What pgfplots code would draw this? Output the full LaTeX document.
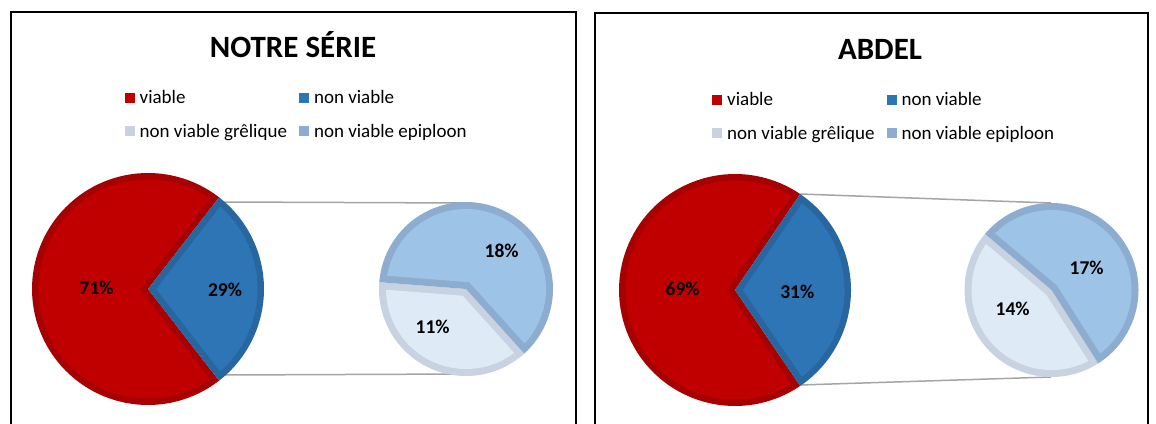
\documentclass[border=0pt]{standalone}
\usepackage{pgfplots}
\pgfplotsset{compat=1.18}
\usepackage{pgfplotstable}
\usepackage{fontspec}
\setmainfont{Carlito}

\definecolor{vred}{RGB}{192,0,0}
\definecolor{vredb}{RGB}{166,0,0}
\definecolor{nvblue}{RGB}{46,117,182}
\definecolor{nvblueb}{RGB}{40,102,160}
\definecolor{epfill}{RGB}{157,195,230}
\definecolor{epborder}{RGB}{140,173,207}
\definecolor{grfill}{RGB}{222,235,247}
\definecolor{grborder}{RGB}{200,210,224}
\definecolor{leader}{RGB}{165,165,165}

% percentages
\pgfplotstableread{
serie viable nonviable greliq epip
L 71 29 11 18
R 69 31 14 17
}\piedata

\pgfplotstablegetelem{0}{nonviable}\of\piedata \let\Lnv\pgfplotsretval
\pgfplotstablegetelem{0}{greliq}\of\piedata \let\Lgr\pgfplotsretval
\pgfplotstablegetelem{1}{nonviable}\of\piedata \let\Rnv\pgfplotsretval
\pgfplotstablegetelem{1}{greliq}\of\piedata \let\Rgr\pgfplotsretval

% main pie: non viable slice centred on the right
\pgfmathsetmacro\Lh{\Lnv*1.8}
\pgfmathsetmacro\Lhh{360-\Lh}
\pgfmathsetmacro\Rh{\Rnv*1.8}
\pgfmathsetmacro\Rhh{360-\Rh}
% secondary pie: grelique slice start angle, then its span
\def\Ls{175.5}
\pgfmathsetmacro\Le{\Ls+\Lgr/\Lnv*360}
\pgfmathsetmacro\Lee{\Ls+360}
\def\Rs{139.9}
\pgfmathsetmacro\Re{\Rs+\Rgr/\Rnv*360}
\pgfmathsetmacro\Ree{\Rs+360}

% #1 cx, #2 cy, #3 radius, #4 border width, #5 from, #6 to, #7 fill, #8 border
\newcommand{\pieslice}[8]{%
  \addplot[forget plot, draw=none, fill=#8, domain=#5:#6, samples=90, variable=\t]
    ({#1+#3*cos(\t)}, {#2-#3*sin(\t)}) -- (axis cs:#1,#2) -- cycle;
  \addplot[forget plot, draw=none, fill=#7, domain=#5+asin(#4/(#3-#4)):#6-asin(#4/(#3-#4)), samples=90, variable=\t]
    ({#1+(#3-#4)*cos(\t)}, {#2-(#3-#4)*sin(\t)})
    -- (axis cs:{#1+#4/sin((#6-#5)/2)*cos((#5+#6)/2)},{#2-#4/sin((#6-#5)/2)*sin((#5+#6)/2)}) -- cycle;
}

\tikzset{pct/.style={font=\bfseries\fontsize{19.5}{22}\selectfont}}

\pgfplotsset{
  panel/.style={
    scale only axis, height=423pt, ymin=0, ymax=423, y dir=reverse,
    hide axis, clip=false,
    legend columns=2, legend cell align=left,
    legend style={draw=none, fill=none, anchor=north west,
      font=\fontsize{19}{22}\selectfont,
      nodes={inner sep=1pt},
      /tikz/every odd column/.append style={column sep=4pt},
      /tikz/every even column/.append style={column sep=11pt},
      row sep=17pt},
    legend image code/.code={\fill[##1, draw=none] (0pt,-5pt) rectangle (10pt,5pt);},
  },
}

\begin{document}
\begin{tikzpicture}
% ---------------- left panel ----------------
\begin{axis}[panel, at={(0pt,0pt)}, anchor=south west,
  width=580pt, xmin=0, xmax=580,
  legend style={at={(axis cs:121.5,87)}}]
  \draw[black, line width=1.6pt] (axis cs:11,440) -- (axis cs:11,12) -- (axis cs:576,12) -- (axis cs:576,440);
  \node[font=\bfseries\fontsize{31}{34}\selectfont, anchor=base] at (axis cs:293,57) {NOTRE SÉRIE};
  \addlegendimage{fill=vred}\addlegendentry{viable}
  \addlegendimage{fill=nvblue}\addlegendentry{non viable}
  \addlegendimage{fill=grborder}\addlegendentry{non viable grêlique}
  \addlegendimage{fill=epborder}\addlegendentry{non viable epiploon}
  \addplot[forget plot, leader, line width=1.5pt] coordinates {(223,202) (466,203)};
  \addplot[forget plot, leader, line width=1.5pt] coordinates {(223,375) (466,374)};
  \pieslice{148}{289}{116}{6.5}{\Lh}{\Lhh}{vred}{vredb}
  \pieslice{148}{289}{116}{6.5}{-\Lh}{\Lh}{nvblue}{nvblueb}
  \pieslice{466}{289}{87}{7}{\Ls}{\Le}{grfill}{grborder}
  \pieslice{466}{289}{87}{7}{\Le}{\Lee}{epfill}{epborder}
  \node[pct] at (axis cs:96.7,288) {71\%};
  \node[pct] at (axis cs:225,290) {29\%};
  \node[pct] at (axis cs:501.7,251) {18\%};
  \node[pct] at (axis cs:432.7,326.7) {11\%};
\end{axis}
% ---------------- right panel ----------------
\begin{axis}[panel, at={(580pt,0pt)}, anchor=south west,
  width=576pt, xmin=580, xmax=1156,
  legend style={at={(axis cs:709,89)}}]
  \draw[black, line width=1.6pt] (axis cs:595,440) -- (axis cs:595,13) -- (axis cs:1148,13) -- (axis cs:1148,440);
  \node[font=\bfseries\fontsize{31}{34}\selectfont, anchor=base] at (axis cs:880,59) {ABDEL};
  \addlegendimage{fill=vred}\addlegendentry{viable}
  \addlegendimage{fill=nvblue}\addlegendentry{non viable}
  \addlegendimage{fill=grborder}\addlegendentry{non viable grêlique}
  \addlegendimage{fill=epborder}\addlegendentry{non viable epiploon}
  \addplot[forget plot, leader, line width=1.5pt] coordinates {(800,194) (1051,203)};
  \addplot[forget plot, leader, line width=1.5pt] coordinates {(800,385) (1051,377)};
  \pieslice{735}{290}{116}{6.5}{\Rh}{\Rhh}{vred}{vredb}
  \pieslice{735}{290}{116}{6.5}{-\Rh}{\Rh}{nvblue}{nvblueb}
  \pieslice{1051.5}{290}{87}{7}{\Rs}{\Re}{grfill}{grborder}
  \pieslice{1051.5}{290}{87}{7}{\Re}{\Ree}{epfill}{epborder}
  \node[pct] at (axis cs:682.7,289.3) {69\%};
  \node[pct] at (axis cs:797.3,291.7) {31\%};
  \node[pct] at (axis cs:1086.7,268.3) {17\%};
  \node[pct] at (axis cs:1012.7,309.3) {14\%};
\end{axis}
\pgfresetboundingbox
\path[use as bounding box] (0,0) rectangle (1156pt,423pt);
\end{tikzpicture}
\end{document}
